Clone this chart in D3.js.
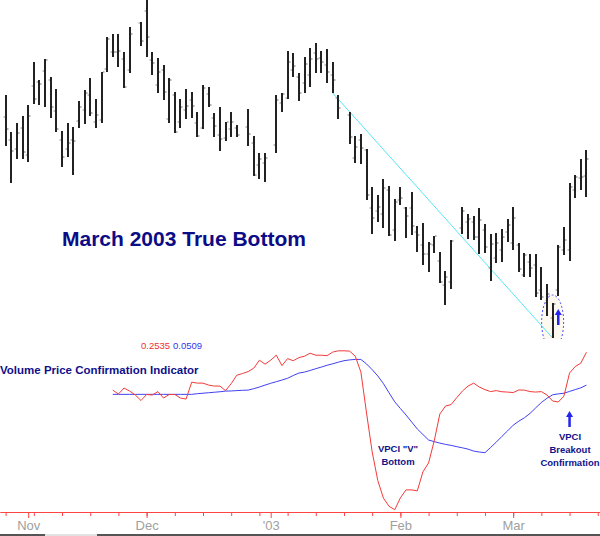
<!doctype html>
<html lang="en">
<head>
<meta charset="utf-8" />
<title>March 2003 True Bottom - VPCI</title>
<script src="https://d3js.org/d3.v7.min.js"></script>
<style type="text/css">
body{ margin:0; background:#fff; }
#svg_div svg{ display:block; font-family: Arial, "Liberation Sans", sans-serif; }
</style>
</head>
<body>
<div id="svg_div"></div>
<script>
// daily price bars (holidays are left as empty slots)
var barDates = [
  "2002-10-28","2002-10-29","2002-10-30","2002-10-31","2002-11-01",
  "2002-11-04","2002-11-05","2002-11-06","2002-11-07","2002-11-08",
  "2002-11-11","2002-11-12","2002-11-13","2002-11-14","2002-11-15",
  "2002-11-18","2002-11-19","2002-11-20","2002-11-21","2002-11-22",
  "2002-11-25","2002-11-26","2002-11-27","2002-11-29",
  "2002-12-02","2002-12-03","2002-12-04","2002-12-05","2002-12-06",
  "2002-12-09","2002-12-10","2002-12-11","2002-12-12","2002-12-13",
  "2002-12-16","2002-12-17","2002-12-18","2002-12-19","2002-12-20",
  "2002-12-23","2002-12-24","2002-12-26","2002-12-27",
  "2002-12-30","2002-12-31","2003-01-02","2003-01-03",
  "2003-01-06","2003-01-07","2003-01-08","2003-01-09","2003-01-10",
  "2003-01-13","2003-01-14","2003-01-15","2003-01-16","2003-01-17",
  "2003-01-21","2003-01-22","2003-01-23","2003-01-24",
  "2003-01-27","2003-01-28","2003-01-29","2003-01-30","2003-01-31",
  "2003-02-03","2003-02-04","2003-02-05","2003-02-06","2003-02-07",
  "2003-02-10","2003-02-11","2003-02-12","2003-02-13","2003-02-14",
  "2003-02-18","2003-02-19","2003-02-20","2003-02-21",
  "2003-02-24","2003-02-25","2003-02-26","2003-02-27","2003-02-28",
  "2003-03-03","2003-03-04","2003-03-05","2003-03-06","2003-03-07",
  "2003-03-10","2003-03-11","2003-03-12","2003-03-13","2003-03-14",
  "2003-03-17","2003-03-18","2003-03-19","2003-03-20"
];
var opens = [
  901.5,890,885.5,896,882.5, 917,919,924.5,920,904.5, 890,885.5,890,899.5,905,
  912.5,899,900,925.5,934, 934,930.5,925,948.5,
  954.5,930,917.5,925,900.5, 912.5,899,905,910,898.5, 896,913,901,892.5,891,
  895.5,896,896.5,888.5, 877.5,878.5,887.5,908.5,
  911,925,921.5,918.5,922.5, 933.5,931,927.5,922.5,911, 902.5,881,890,885,
  856,854.5,853,865,845, 860,856,856,844,837.5, 833,837.5,829.5,817.5,819,
  846,849,849,841.5, 845,826,831,835,844,
  838.5,837.5,822.5,829,827.5, 815,808.5,801,815,835, 835,865,871,872
];
var highs = [
  912.5,894,898.5,902,907.5, 929,920,930.5,921.5,915.5, 894.5,898.5,896.5,909.5,915,
  921,910.5,924,941.5,943, 943,934,946.5,949,
  962,934,931,927.5,921, 914,910.5,915.5,914,904, 917.5,916.5,903.5,906.5,899,
  904,897.5,905.5,892, 883.5,883.5,912.5,913.5,
  934.5,933.5,923.5,931.5,936, 938.5,934.5,935.5,929,912.5, 904,892,893,885.5,
  866.5,862.5,870.5,867,860.5, 866.5,856.5,864,847,848.5, 839,842,834,824.5,840,
  856.5,853,852,856, 848,843,843.5,845.5,850.5,
  856.5,838.5,833.5,833,833, 826.5,818,808.5,837.5,846.5, 868.5,872.5,880.5,885
];
var lows = [
  887,868.5,880.5,880.5,879, 908,907.5,906.5,901,894, 876.5,881.5,872.5,896,898,
  902,896,898.5,924,931.5, 926.5,916,923.5,937,
  931.5,922.5,913.5,910,898.5, 893.5,896,900.5,901,891.5, 895.5,906.5,891.5,884.5,889.5,
  891.5,891.5,887,872, 870.5,869,883.5,904,
  910.5,921.5,909.5,913.5,916.5, 923.5,923.5,918.5,913.5,900.5, 888,878.5,878,860,
  843,849,846,842,839.5, 857.5,841,842.5,834,827.5, 824,833.5,818.5,807.5,815.5,
  843,840.5,840,833, 833.5,819.5,828.5,829,839,
  835,824,821.5,821.5,811.5, 810,802,791,812,832.5, 829.5,861,865,861.5
];
var closes = [
  895.5,884.5,893.5,884,902, 910.5,918,930,906.5,895.5, 881.5,888.5,889.5,906.5,913.5,
  903.5,902.5,924,940.5,934, 934.5,916.5,943,939.5,
  941.5,928.5,924,914,920, 894,906.5,907,907,892, 916,907.5,897,890.5,899,
  899,892.5,893,872.5, 880.5,881,910,913,
  929,927,913.5,928,930.5, 930.5,929,924,920,906, 891.5,886.5,886,862.5,
  851,856.5,866,842.5,859, 861,852,847,842.5,833, 838,842,819,821.5,839.5,
  854.5,850.5,841.5,850, 836.5,838,838.5,841.5,847.5,
  851,825.5,832.5,826,813.5, 811.5,813,808,836.5,840, 866.5,871.5,871.5,880.5
];

// VPCI (red) and its smoothed average (blue), one value per weekday slot from vpciStart
var vpciStart = "2002-11-22";
var vpciRed = [
  0.020,-0.004,0.033,0.014,-0.010, -0.044,-0.007,-0.010,0.011,-0.029,
  -0.007,-0.007,-0.029,-0.035,0.069, 0.063,0.063,0.051,0.045,0.045,
  0.017,0.060,0.112,0.122,0.134, 0.155,0.204,0.180,0.204,0.235,
  0.171,0.214,0.201,0.220,0.229, 0.247,0.235,0.235,0.232,0.254,
  0.262,0.262,0.260,0.229,0.131, -0.121,-0.360,-0.537,-0.645,-0.695,
  -0.716,-0.643,-0.594,-0.594,-0.600, -0.483,-0.428,-0.293,-0.127,-0.078,
  -0.069,-0.026,0.014,0.045,0.063, 0.039,0.023,0.011,0.017,0.010,
  0.008,0.005,0.021,0.020,0.011, 0.008,0.011,-0.010,-0.047,-0.053,
  -0.017,0.125,0.165,0.186,0.2535
];
var vpciBlue = [
  -0.006,-0.006,-0.006,-0.006,-0.006, -0.006,-0.006,-0.006,-0.006,-0.006,
  -0.006,-0.006,-0.006,-0.006,-0.006, -0.002,0.001,0.004,0.007,0.010,
  0.014,0.015,0.017,0.019,0.020, 0.029,0.039,0.051,0.062,0.072,
  0.082,0.093,0.110,0.125,0.131, 0.141,0.152,0.162,0.173,0.182,
  0.192,0.201,0.206,0.209,0.209, 0.181,0.146,0.107,0.060,0.003,
  -0.052,-0.093,-0.133,-0.176,-0.219, -0.253,-0.287,-0.297,-0.306,-0.314,
  -0.320,-0.328,-0.335,-0.343,-0.355, -0.361,-0.365,-0.333,-0.300,-0.265,
  -0.231,-0.196,-0.171,-0.150,-0.123, -0.089,-0.056,-0.030,-0.009,-0.003,
  0.001,0.012,0.023,0.034,0.0509
];

// month ticks along the bottom
var monthTicks = ["2002-11-01","2002-12-02","2003-01-01","2003-02-03","2003-03-03"];
var monthLabels = ["Nov","Dec","'03","Feb","Mar"];

var parse = d3.utcParse("%Y-%m-%d");
var origin = parse("2002-11-01"); // a Friday

// weekday slot counted from origin, so holidays keep their gap
function slot(d){
  var days = d3.utcDay.count(origin, d);
  var w = Math.floor(days / 7);
  var r = days - w * 7;
  return w * 5 + [0,1,1,1,2,3,4][r];
}

var bars = barDates.map(function(s, i){
  return {s: slot(parse(s)), o: opens[i], h: highs[i], l: lows[i], c: closes[i]};
});
var s0 = slot(parse(vpciStart));
var red = vpciRed.map(function(v, i){ return {s: s0 + i, v: v}; });
var blue = vpciBlue.map(function(v, i){ return {s: s0 + i, v: v}; });

var width = 600, height = 536;
var x = d3.scaleLinear().domain([-5, 101.4]).range([0, width]);
var yP = d3.scaleLinear().domain([960, 790]).range([0, 340]);
var yV = d3.scaleLinear().domain([0.39, -0.73]).range([330, 512]);

var svg = d3.select("#svg_div").append("svg")
  .attr("width", width).attr("height", height);

svg.append("defs").append("clipPath").attr("id", "pricePane")
  .append("rect").attr("x", 0).attr("y", 0).attr("width", width).attr("height", 339);

var price = svg.append("g").attr("clip-path", "url(#pricePane)");

// highlight around the low bar
var lowBar = bars.filter(function(b){ return b.s === 93; })[0];
price.append("ellipse")
  .attr("cx", x(lowBar.s)).attr("cy", 322)
  .attr("rx", 11).attr("ry", 27)
  .attr("fill", "#fdf9ee")
  .attr("stroke", "#4a4aff").attr("stroke-width", 1)
  .attr("stroke-dasharray", "2,2");

// falling trend line from the Jan 16 low to the Mar 12 low
var trendA = bars.filter(function(b){ return b.s === 54; })[0];
price.append("line")
  .attr("x1", x(trendA.s)).attr("y1", yP(trendA.l))
  .attr("x2", x(lowBar.s)).attr("y2", yP(lowBar.l))
  .attr("stroke", "#55e8f2").attr("stroke-width", 1);

// OHLC bars
var bar = price.selectAll("g.bar").data(bars).enter().append("g").attr("class", "bar");
bar.append("line")
  .attr("x1", function(d){ return Math.round(x(d.s)); })
  .attr("x2", function(d){ return Math.round(x(d.s)); })
  .attr("y1", function(d){ return yP(d.h); })
  .attr("y2", function(d){ return yP(d.l); })
  .attr("stroke", "#222").attr("stroke-width", 2);
bar.append("line")
  .attr("x1", function(d){ return Math.round(x(d.s)) - 2.5; })
  .attr("x2", function(d){ return Math.round(x(d.s)) - 1; })
  .attr("y1", function(d){ return yP(d.o); })
  .attr("y2", function(d){ return yP(d.o); })
  .attr("stroke", "#888").attr("stroke-width", 1);
bar.append("line")
  .attr("x1", function(d){ return Math.round(x(d.s)) + 1; })
  .attr("x2", function(d){ return Math.round(x(d.s)) + 2.5; })
  .attr("y1", function(d){ return yP(d.c); })
  .attr("y2", function(d){ return yP(d.c); })
  .attr("stroke", "#666").attr("stroke-width", 1);

// up arrows (breakout marks)
function upArrow(g, cx, tip, base, color){
  g.append("line").attr("x1", cx).attr("x2", cx)
    .attr("y1", tip + 5).attr("y2", base)
    .attr("stroke", color).attr("stroke-width", 2.5);
  g.append("path")
    .attr("d", "M" + (cx - 3.5) + "," + (tip + 6) + "L" + cx + "," + tip + "L" + (cx + 3.5) + "," + (tip + 6) + "Z")
    .attr("fill", color);
}
upArrow(price, x(94), 309, 325, "#2424ee");

svg.append("text")
  .attr("x", 62).attr("y", 246)
  .attr("font-size", "21px").attr("font-weight", "bold")
  .attr("fill", "#0c0c86")
  .text("March 2003 True Bottom");

// ---- indicator pane ----
var line = d3.line()
  .x(function(d){ return x(d.s); })
  .y(function(d){ return yV(d.v); });

svg.append("path").datum(blue)
  .attr("d", line).attr("fill", "none")
  .attr("stroke", "#4040f4").attr("stroke-width", 1);
svg.append("path").datum(red)
  .attr("d", line).attr("fill", "none")
  .attr("stroke", "#f43a3a").attr("stroke-width", 1);

var fmt = d3.format(".4f");
svg.append("text").attr("x", 141).attr("y", 349)
  .attr("font-size", "9.5px").attr("fill", "#f03030")
  .text(fmt(vpciRed[vpciRed.length - 1]));
svg.append("text").attr("x", 173).attr("y", 349)
  .attr("font-size", "9.5px").attr("fill", "#3434f0")
  .text(fmt(vpciBlue[vpciBlue.length - 1]));

svg.append("text")
  .attr("x", 0).attr("y", 374)
  .attr("font-size", "11.5px").attr("font-weight", "bold")
  .attr("fill", "#10108a")
  .text("Volume Price Confirmation Indicator");

function note(cx, y0, lines){
  var t = svg.append("text")
    .attr("text-anchor", "middle")
    .attr("font-size", "9.5px").attr("font-weight", "bold")
    .attr("fill", "#12128a");
  lines.forEach(function(s, i){
    t.append("tspan").attr("x", cx).attr("y", y0 + i * 13).text(s);
  });
}
note(398, 451.5, ["VPCI \"V\"", "Bottom"]);
note(570, 440, ["VPCI", "Breakout", "Confirmation"]);
upArrow(svg, x(96), 411, 427, "#2424ee");

// ---- time axis ----
var majors = monthTicks.map(function(s){ return slot(parse(s)); });
var mondays = d3.utcMonday.range(parse("2002-10-21"), parse("2003-03-25")).map(slot);

var minorAxis = d3.axisBottom(x).tickValues(mondays).tickSize(4).tickSizeOuter(0).tickFormat("");
var majorAxis = d3.axisBottom(x).tickValues(majors).tickSize(6).tickSizeOuter(0).tickPadding(3)
  .tickFormat(function(d, i){ return monthLabels[i]; });

var gMinor = svg.append("g").attr("transform", "translate(0,512)").call(minorAxis);
var gMajor = svg.append("g").attr("transform", "translate(0,512)").call(majorAxis);
[gMinor, gMajor].forEach(function(g){
  g.select(".domain").attr("stroke", "#ff4444");
  g.selectAll(".tick line").attr("stroke", "#ff4444");
});
gMajor.selectAll(".tick text")
  .attr("fill", "#a0a0a0")
  .attr("font-size", "13px")
  .attr("font-family", "Arial, 'Liberation Sans', sans-serif");

// scroll strip along the very bottom
svg.append("rect").attr("x", 0).attr("y", 534).attr("width", width).attr("height", 2).attr("fill", "#555");
svg.append("rect").attr("x", 45).attr("y", 534).attr("width", 52).attr("height", 2).attr("fill", "#e2e2e2");
</script>
</body>
</html>
